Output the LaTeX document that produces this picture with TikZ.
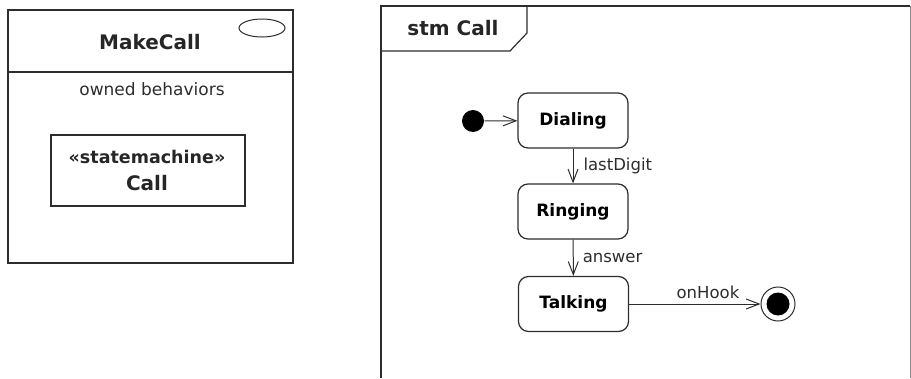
\documentclass[tikz,border=0pt]{standalone}
\usepackage{fontspec}
\setmainfont{DejaVu Sans}
\usetikzlibrary{arrows.meta, positioning, calc}
\definecolor{cLine}{RGB}{45,45,45}
\definecolor{cEdge}{RGB}{140,140,140}
\tikzset{
	state/.style  ={rectangle, rounded corners=10pt, draw=cLine, line width=1.2pt, minimum width=110pt, minimum height=55pt, align=center, font=\fontsize{17}{20}\selectfont\bfseries},
	trans/.style  ={-{Straight Barb[length=13pt, width=10pt]}, draw=cLine, line width=1pt},
	lbl/.style    ={font=\fontsize{16.5}{19}\selectfont, text=cLine, inner sep=2pt},
	title/.style  ={font=\fontsize{20}{24}\selectfont\bfseries, text=black!85},
	pseudo/.style ={circle, fill=black, inner sep=0pt},
}
\begin{document}
\begin{tikzpicture}[x=1pt, y=-1pt, line width=1.2pt, draw=cLine]
	\useasboundingbox (0,0) rectangle (911,378);
	% class with owned behavior
	\draw (8,10) rectangle (293,263);
	\draw (8,72) -- (293,72);
	\node[title] (makecall) at (150,42) {MakeCall};
	\draw[line width=1pt] (262,28) ellipse [x radius=23pt, y radius=9pt];
	\node[lbl, font=\fontsize{17}{20}\selectfont] (owned) at (152,89) {owned behaviors};
	\node[draw=cLine, minimum width=194pt, minimum height=71pt] (behav) at (148,170.5) {};
	\node[font=\fontsize{17.5}{20}\selectfont\bfseries, text=black!85] (stereo) at (147,157) {«statemachine»};
	\node[title] (callname) at (147,183) {Call};
	% state machine frame
	\draw (381,378) -- (381,6) -- (910,6);
	\draw[cEdge, line width=1pt] (910,6) -- (910,378);
	\draw (381,51) -- (510,51) -- (527,33) -- (527,6);
	\node[title] (stm) at (453,28) {stm Call};
	% states
	\node[state] (dialing) at (573,120.5) {Dialing};
	\node[state] (ringing) at (573,211.5) {Ringing};
	\node[state] (talking) at (573.5,304) {Talking};
	\node[pseudo, minimum size=22pt] (init) at (473,121) {};
	\node[circle, draw=cLine, line width=1pt, minimum size=34pt, inner sep=0pt] (final) at (778,304) {};
	\node[pseudo, minimum size=23pt] (finaldot) at (final.center) {};
	% transitions
	\draw[trans] (init) -- (dialing);
	\draw[trans] (dialing) -- node[lbl, right=8pt] {lastDigit} (ringing);
	\draw[trans] (ringing) -- node[lbl, right=7pt] {answer} (talking);
	\draw[trans] (talking) -- node[lbl, above=3pt, pos=0.6] {onHook} (final);
\end{tikzpicture}
\end{document}
